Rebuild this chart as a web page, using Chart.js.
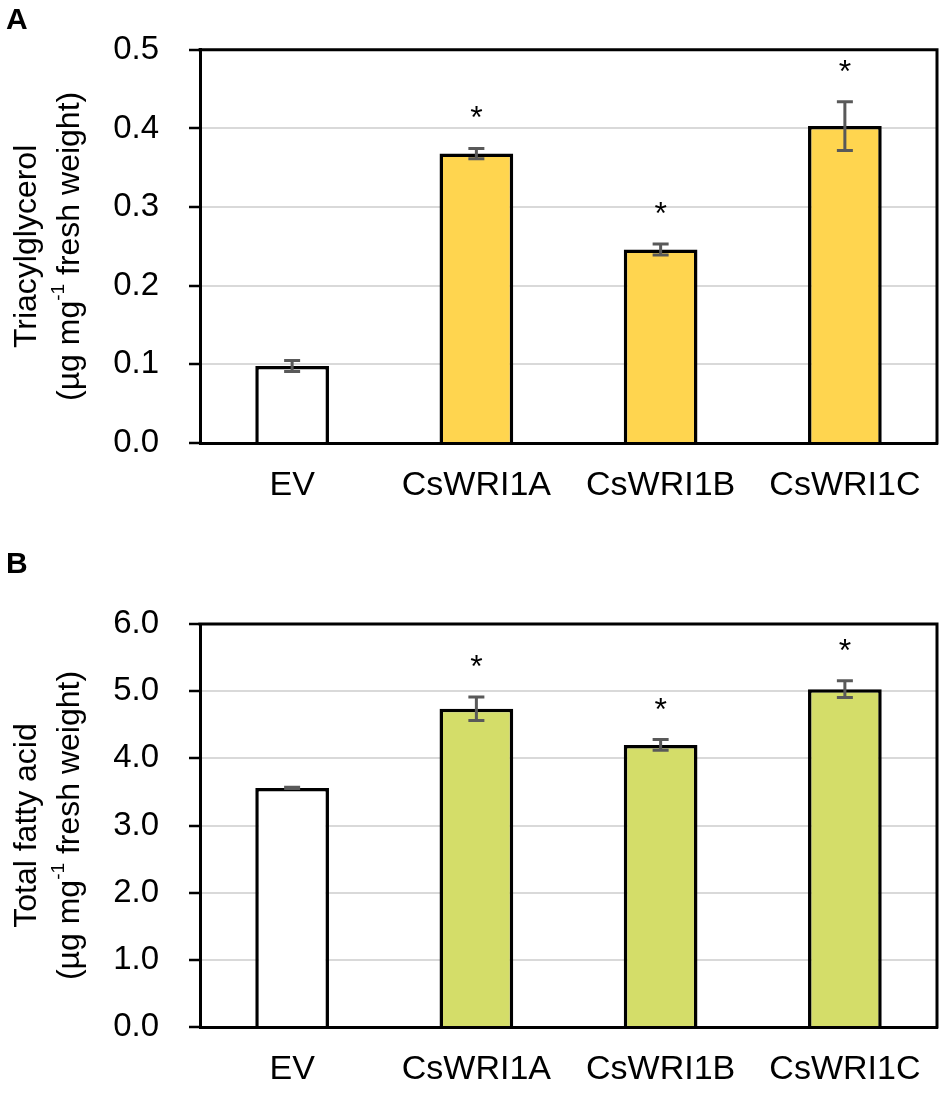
<!DOCTYPE html>
<html lang="en">
<head>
    <meta charset="UTF-8">
    <title>TAG and total fatty acid</title>
    <script src="https://cdn.jsdelivr.net/npm/chart.js"></script>
    <style>
        body {
            margin: 0;
            padding: 0;
            background: #ffffff;
        }
        canvas {
            display: block;
        }
    </style>
</head>
<body>
    <canvas id="tagChart" width="950" height="545"></canvas>
    <canvas id="tfaChart" width="950" height="550"></canvas>

    <script>
        // Data
        const categories = ["EV", "CsWRI1A", "CsWRI1B", "CsWRI1C"];
        const tagValues = [0.098, 0.368, 0.246, 0.403];
        const tagErrors = [0.007, 0.0065, 0.007, 0.031];
        const tfaValues = [3.56, 4.74, 4.20, 5.03];
        const tfaErrors = [0.01, 0.175, 0.08, 0.125];
        const significant = [false, true, true, true];

        const FONT = "'Liberation Sans', Arial, sans-serif";

        // error bars, asterisks, box and titles
        const extras = {
            id: "extras",
            afterDatasetsDraw(chart, args, opts) {
                const ctx = chart.ctx;
                const y = chart.scales.y;
                const bars = chart.getDatasetMeta(0).data;
                ctx.save();
                ctx.strokeStyle = "#595959";
                ctx.lineWidth = 3;
                bars.forEach((bar, i) => {
                    const v = opts.values[i], e = opts.errors[i];
                    const top = y.getPixelForValue(v + e);
                    const bot = y.getPixelForValue(v - e);
                    ctx.beginPath();
                    ctx.moveTo(bar.x, top); ctx.lineTo(bar.x, bot);
                    ctx.moveTo(bar.x - 8, top); ctx.lineTo(bar.x + 8, top);
                    ctx.moveTo(bar.x - 8, bot); ctx.lineTo(bar.x + 8, bot);
                    ctx.stroke();
                    if (significant[i]) {
                        ctx.fillStyle = "#000";
                        ctx.font = "32px " + FONT;
                        ctx.textAlign = "center";
                        ctx.textBaseline = "alphabetic";
                        ctx.fillText("*", bar.x, top - 38 + 18);
                    }
                });
                ctx.restore();
            },
            afterDraw(chart, args, opts) {
                const ctx = chart.ctx;
                const a = chart.chartArea;
                ctx.save();
                // top and right of the box
                ctx.strokeStyle = "#000";
                ctx.lineWidth = 3;
                ctx.beginPath();
                ctx.moveTo(a.left - 1.5, a.top);
                ctx.lineTo(a.right, a.top);
                ctx.lineTo(a.right, a.bottom + 1.5);
                ctx.stroke();

                // panel letter
                ctx.fillStyle = "#000";
                ctx.font = "bold 30px " + FONT;
                ctx.textAlign = "left";
                ctx.textBaseline = "alphabetic";
                ctx.fillText(opts.letter, 6, opts.letterY);

                // y axis title, two lines, second with superscript
                const cy = (a.top + a.bottom) / 2;
                ctx.translate(0, cy);
                ctx.rotate(-Math.PI / 2);
                ctx.textBaseline = "middle";
                ctx.textAlign = "center";
                ctx.font = "32px " + FONT;
                ctx.fillText(opts.title, 0, 27);

                const p1 = "(\u00b5g mg", sup = "-1", p2 = " fresh weight)";
                const supFont = "19px " + FONT;
                const w1 = ctx.measureText(p1).width;
                const w2 = ctx.measureText(p2).width;
                ctx.font = supFont;
                const ws = ctx.measureText(sup).width;
                let x = -(w1 + ws + w2) / 2;
                ctx.textAlign = "left";
                ctx.font = "32px " + FONT;
                ctx.fillText(p1, x, 70);
                x += w1;
                ctx.font = supFont;
                ctx.fillText(sup, x, 59);
                x += ws;
                ctx.font = "32px " + FONT;
                ctx.fillText(p2, x, 70);
                ctx.restore();
            }
        };

        function makeChart(id, values, errors, fill, yMax, step, decimals, padTop, xHeight, letter, letterY, title) {
            return new Chart(document.getElementById(id), {
                type: "bar",
                data: {
                    labels: categories,
                    datasets: [{
                        data: values,
                        backgroundColor: categories.map((c, i) => i === 0 ? "#ffffff" : fill),
                        borderColor: "#000000",
                        borderWidth: 3.5,
                        borderSkipped: "start",
                        barPercentage: 0.4,
                        categoryPercentage: 1.0
                    }]
                },
                options: {
                    responsive: false,
                    animation: false,
                    layout: { padding: { top: padTop, right: 13, left: 0, bottom: 0 } },
                    plugins: {
                        legend: { display: false },
                        tooltip: { enabled: false },
                        extras: { values: values, errors: errors, letter: letter, letterY: letterY, title: title }
                    },
                    scales: {
                        x: {
                            grid: { display: false, drawTicks: false },
                            border: { display: true, color: "#000", width: 3 },
                            ticks: { color: "#000", font: { family: FONT, size: 34 }, padding: 22 },
                            afterFit: s => { s.height = xHeight; }
                        },
                        y: {
                            min: 0,
                            max: yMax,
                            grid: { color: "#d9d9d9", lineWidth: 2, tickLength: 11, tickColor: "#000", tickWidth: 2.5 },
                            border: { display: true, color: "#000", width: 3 },
                            ticks: {
                                stepSize: step,
                                color: "#000",
                                font: { family: FONT, size: 33 },
                                padding: 30,
                                callback: v => Number(v).toFixed(decimals)
                            },
                            afterFit: s => { s.width = 200; }
                        }
                    }
                },
                plugins: [extras]
            });
        }

        makeChart("tagChart", tagValues, tagErrors, "#ffd54f", 0.5, 0.1, 1, 42, 102, "A", 29, "Triacylglycerol");
        makeChart("tfaChart", tfaValues, tfaErrors, "#d4dd69", 6, 1, 1, 79, 68, "B", 28, "Total fatty acid");
    </script>
</body>
</html>
